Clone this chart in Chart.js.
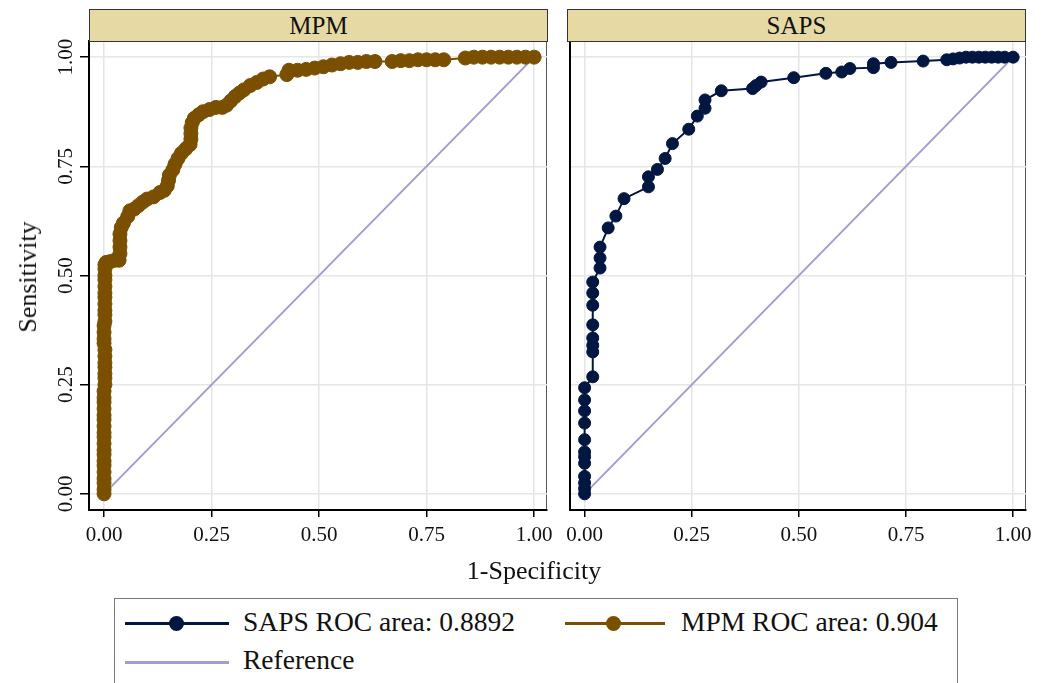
<!DOCTYPE html>
<html><head><meta charset="utf-8">
<script src="https://cdn.jsdelivr.net/npm/chart.js@4"></script>
<style>
body{margin:0;background:#fff;width:1044px;height:683px;overflow:hidden;position:relative;font-family:"Liberation Serif","Times New Roman",serif;color:#111}
canvas{position:absolute;top:0}
.strip{position:absolute;top:9px;height:33px;border:1px solid #333;background:#e7d9a3;text-align:center;font-size:25px;line-height:31px;box-sizing:border-box}
.t{position:absolute;white-space:nowrap}
.lline{position:absolute;height:3px}
.ldot{position:absolute;width:15px;height:15px;border-radius:50%}
</style></head><body>
<canvas id="c1" width="560" height="590" style="left:0"></canvas>
<canvas id="c2" width="484" height="590" style="left:560px"></canvas>
<div class="strip" id="s1" style="left:89px;width:459px"></div>
<div class="strip" id="s2" style="left:567px;width:459px"></div>
<div class="t" id="xt" style="left:0;width:1068px;text-align:center;top:556px;font-size:26px"></div>
<div class="t" id="yt" style="left:28px;top:277px;font-size:26px;transform:translate(-50%,-50%) rotate(-90deg)"></div>
<div style="position:absolute;left:114px;top:598px;width:844px;height:100px;border:1.5px solid #777;box-sizing:border-box"></div>
<div class="lline" style="left:125px;top:622px;width:104px;background:#011640"></div>
<div class="ldot" style="left:169px;top:616px;background:#011640"></div>
<div class="t" id="l1" style="left:243px;top:606px;font-size:27.5px"></div>
<div class="lline" style="left:565px;top:622px;width:100px;background:#7a5000"></div>
<div class="ldot" style="left:606px;top:616px;background:#7a5000"></div>
<div class="t" id="l2" style="left:681px;top:606px;font-size:27.5px"></div>
<div class="lline" style="left:125px;top:661px;width:104px;background:#a09dd3"></div>
<div class="t" id="l3" style="left:243px;top:644px;font-size:27.5px"></div>
<script>
// ---- data ----
const panelTitles = ["MPM", "SAPS"];
const xTitle = "1-Specificity";
const yTitle = "Sensitivity";
const legendLabels = ["SAPS ROC area: 0.8892", "MPM ROC area: 0.904", "Reference"];
const tickValues = [0, 0.25, 0.5, 0.75, 1];
const tickLabels = ["0.00", "0.25", "0.50", "0.75", "1.00"];

const mpmFpr = [0,0,0,0,0,0,0,0,0,0,0,0,0,0,0,0,0,0,0,0.002,0.002,0.002,0.002,0.002,0.002,0.002,0,0,0,0,0.002,0.002,0.002,0.002,0.002,0.002,0.002,0.002,0.002,0.002,0.002,0.005,0.015,0.025,0.035,0.037,0.037,0.037,0.037,0.04,0.045,0.055,0.06,0.07,0.08,0.09,0.1,0.115,0.13,0.14,0.147,0.15,0.152,0.16,0.165,0.172,0.18,0.19,0.2,0.202,0.202,0.202,0.205,0.21,0.22,0.23,0.245,0.26,0.275,0.285,0.295,0.305,0.315,0.325,0.34,0.355,0.37,0.385,0.425,0.43,0.45,0.47,0.49,0.51,0.53,0.55,0.57,0.59,0.61,0.63,0.67,0.69,0.71,0.73,0.75,0.77,0.79,0.84,0.86,0.88,0.9,0.92,0.94,0.96,0.98,1];
const mpmSens = [0,0.01,0.025,0.035,0.05,0.065,0.075,0.09,0.1,0.115,0.13,0.14,0.155,0.17,0.18,0.195,0.21,0.22,0.235,0.25,0.265,0.275,0.29,0.3,0.315,0.33,0.345,0.355,0.37,0.385,0.395,0.41,0.42,0.435,0.45,0.46,0.475,0.49,0.5,0.515,0.525,0.53,0.532,0.535,0.535,0.55,0.565,0.58,0.595,0.61,0.62,0.635,0.648,0.652,0.66,0.668,0.675,0.68,0.69,0.695,0.705,0.718,0.73,0.742,0.755,0.768,0.78,0.79,0.8,0.812,0.825,0.838,0.85,0.86,0.868,0.875,0.88,0.885,0.885,0.89,0.9,0.91,0.918,0.925,0.935,0.942,0.95,0.955,0.96,0.97,0.97,0.972,0.975,0.978,0.982,0.985,0.988,0.988,0.99,0.99,0.99,0.992,0.992,0.994,0.994,0.994,0.994,0.998,1,1,1,1,1,1,1,1];

const sapsFpr = [0,0,0,0,0,0,0,0,0,0,0,0,0.019,0.019,0.019,0.019,0.019,0.019,0.019,0.019,0.036,0.036,0.036,0.055,0.073,0.092,0.149,0.149,0.17,0.188,0.205,0.243,0.263,0.281,0.281,0.319,0.392,0.4,0.412,0.488,0.563,0.6,0.619,0.674,0.674,0.715,0.79,0.845,0.86,0.875,0.89,0.905,0.92,0.935,0.95,0.965,0.98,1];
const sapsSens = [0,0.012,0.025,0.04,0.07,0.085,0.096,0.124,0.162,0.19,0.215,0.243,0.268,0.325,0.34,0.357,0.387,0.432,0.46,0.485,0.517,0.54,0.565,0.609,0.636,0.676,0.703,0.726,0.743,0.768,0.802,0.835,0.865,0.883,0.902,0.923,0.928,0.935,0.943,0.953,0.963,0.966,0.974,0.976,0.985,0.988,0.991,0.994,0.996,0.998,1,1,1,1,1,1,1,1];

const refX = [0, 1];
const refY = [0, 1];

// ---- styles ----
const mpmColor = "#7a5000", sapsColor = "#011640", refColor = "#a09dd3";
const fontFam = '"Liberation Serif","Times New Roman",serif';

document.getElementById('s1').textContent = panelTitles[0];
document.getElementById('s2').textContent = panelTitles[1];
document.getElementById('xt').textContent = xTitle;
document.getElementById('yt').textContent = yTitle;
document.getElementById('l1').textContent = legendLabels[0];
document.getElementById('l2').textContent = legendLabels[1];
document.getElementById('l3').textContent = legendLabels[2];

const pts = (xs, ys) => xs.map((x, i) => ({x: x, y: ys[i]}));

const framePlugin = {
  id: 'frame',
  beforeDraw(chart) {
    const {ctx, chartArea: a} = chart;
    ctx.save();
    ctx.strokeStyle = '#555'; ctx.lineWidth = 1;
    ctx.strokeRect(a.left + 0.5, a.top + 0.5, a.right - a.left - 1, a.bottom - a.top - 1);
    ctx.restore();
  }
};
const yLabelPlugin = {
  id: 'ylabels',
  afterDraw(chart) {
    const s = chart.scales.y, ctx = chart.ctx;
    ctx.save();
    ctx.font = '21px ' + fontFam; ctx.fillStyle = '#111';
    ctx.textAlign = 'center'; ctx.textBaseline = 'middle';
    tickValues.forEach((v, i) => {
      const y = s.getPixelForValue(v);
      ctx.save(); ctx.translate(chart.chartArea.left - 23, y); ctx.rotate(-Math.PI / 2);
      ctx.fillText(tickLabels[i], 0, 0); ctx.restore();
    });
    ctx.restore();
  }
};

function makeChart(id, curve, color, radius, isLeft) {
  const setTicks = (scale) => { scale.ticks = tickValues.map(v => ({value: v})); };
  return new Chart(document.getElementById(id), {
    type: 'scatter',
    data: {
      datasets: [
        {data: pts(curve[0], curve[1]), showLine: true, borderColor: color, backgroundColor: color,
         borderWidth: 2, pointRadius: radius, pointBorderWidth: 1, pointBorderColor: color, order: 0},
        {data: pts(refX, refY), showLine: true, borderColor: refColor, borderWidth: 2, pointRadius: 0, order: 1}
      ]
    },
    options: {
      responsive: false, animation: false, events: [],
      layout: {padding: {top: 41, right: isLeft ? 13 : 18, left: 0, bottom: 0}},
      plugins: {legend: {display: false}, tooltip: {enabled: false}},
      scales: {
        x: {
          type: 'linear', min: -0.035, max: 1.03,
          afterBuildTicks: setTicks,
          afterFit: (s) => { s.height = 80; },
          grid: {color: '#e6e6e6', lineWidth: 1.5, tickColor: '#000', tickLength: 7, drawTicks: true},
          border: {display: true, color: '#000', width: 2},
          ticks: {autoSkip: false, maxRotation: 0, padding: 6, color: '#111',
                  font: {family: fontFam, size: 21},
                  callback: (v, i) => tickLabels[i]}
        },
        y: {
          type: 'linear', min: -0.037, max: 1.037,
          afterBuildTicks: setTicks,
          afterFit: (s) => { s.width = isLeft ? 89 : 7; },
          grid: {color: '#e6e6e6', lineWidth: 1.5, tickColor: '#000', tickLength: 9, drawTicks: isLeft},
          border: {display: true, color: '#000', width: 2},
          ticks: {display: false}
        }
      }
    },
    plugins: isLeft ? [framePlugin, yLabelPlugin] : [framePlugin]
  });
}

makeChart('c1', [mpmFpr, mpmSens], mpmColor, 7, true);
makeChart('c2', [sapsFpr, sapsSens], sapsColor, 6, false);
</script>
</body></html>
